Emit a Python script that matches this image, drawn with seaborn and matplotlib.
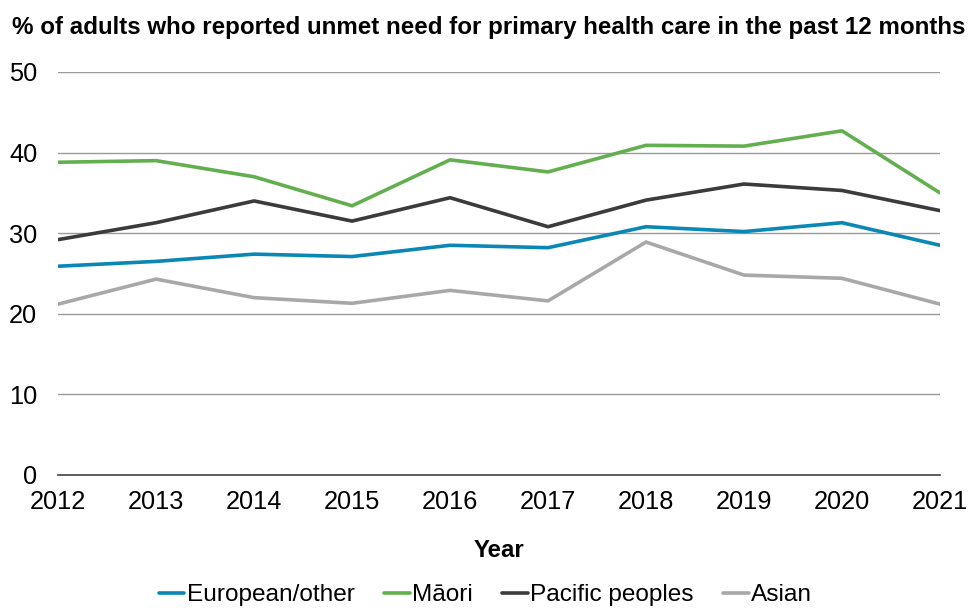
import matplotlib
matplotlib.use("Agg")
import matplotlib.pyplot as plt
import seaborn as sns
import pandas as pd

years = [2012, 2013, 2014, 2015, 2016, 2017, 2018, 2019, 2020, 2021]
european = [25.9, 26.5, 27.4, 27.1, 28.5, 28.2, 30.8, 30.2, 31.3, 28.5]
maori = [38.8, 39.0, 37.0, 33.4, 39.1, 37.6, 40.9, 40.8, 42.7, 35.0]
pacific = [29.2, 31.3, 34.0, 31.5, 34.4, 30.8, 34.1, 36.1, 35.3, 32.8]
asian = [21.2, 24.3, 22.0, 21.3, 22.9, 21.6, 28.9, 24.8, 24.4, 21.2]
series_names = ["European/other", "Māori", "Pacific peoples", "Asian"]
colors = ["#0A87B5", "#63AF4F", "#3B3B3B", "#A8A8A8"]
yticks = [0, 10, 20, 30, 40, 50]

sns.set_theme(style="white")
plt.rcParams["font.family"] = ["Liberation Sans", "DejaVu Sans"]
plt.rcParams["text.color"] = "black"
plt.rcParams["axes.labelcolor"] = "black"

df = pd.DataFrame({"Year": years * 4,
                   "Value": european + maori + pacific + asian,
                   "Group": sum([[n] * len(years) for n in series_names], [])})

fig = plt.figure(figsize=(9.69, 6.08), dpi=100)
ax = fig.add_axes([0.06, 0.2188, 0.910, 0.6628])

sns.lineplot(data=df, x="Year", y="Value", hue="Group", hue_order=series_names,
             palette=colors, linewidth=2.6, ax=ax, legend=True)

ax.set_xlim(2012, 2021)
ax.set_ylim(0, 50)
ax.set_yticks(yticks)
ax.set_xticks(years)
ax.set_xticklabels([str(y) for y in years])
for t in yticks[1:]:
    ax.axhline(t, color="#9A9A9A", linewidth=1.0, zorder=0)
for s in ["top", "right", "left"]:
    ax.spines[s].set_visible(False)
ax.spines["bottom"].set_color("#404040")
ax.spines["bottom"].set_linewidth(1.2)
ax.tick_params(axis="x", which="major", direction="out", length=6, width=1,
               color="#404040", labelsize=18.3, pad=5, labelcolor="black")
ax.tick_params(axis="y", length=0, labelsize=18.3, pad=15, labelcolor="black")
ax.set_xlabel("Year", fontsize=17.3, fontweight="bold", labelpad=18, color="black")
ax.set_ylabel("")

fig.text(0.012, 0.955, "% of adults who reported unmet need for primary health care in the past 12 months",
         fontsize=17.4, fontweight="bold", ha="left", va="center", color="black")

handles, labels = ax.get_legend_handles_labels()
ax.get_legend().remove()
leg = fig.legend(handles, labels, loc="center", bbox_to_anchor=(0.501, 0.021),
                 ncol=4, frameon=False, fontsize=17.6, handlelength=1.05, handletextpad=0.1,
                 columnspacing=1.2, borderpad=0)
for t in leg.get_texts():
    t.set_color("black")

fig.savefig("out.png", dpi=100)
